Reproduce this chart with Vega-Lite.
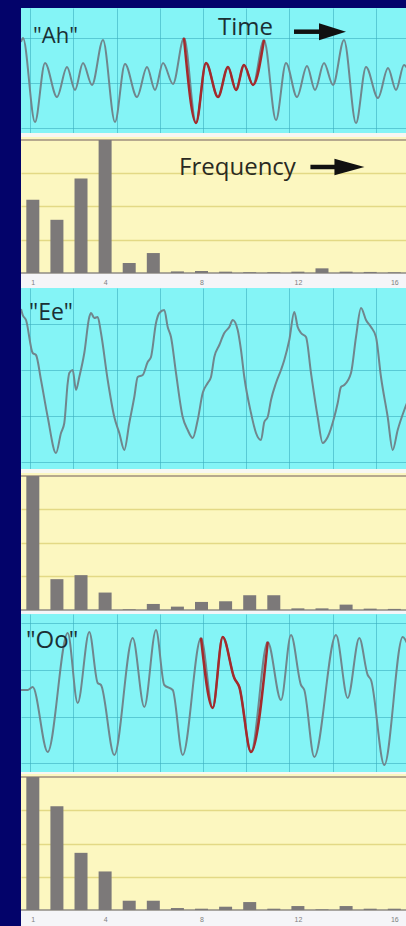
{
  "$schema": "https://vega.github.io/schema/vega-lite/v6.json",
  "background": "#03036a",
  "padding": {"left": 20, "top": 8, "right": 0, "bottom": 0},
  "config": {
    "view": {"stroke": null},
    "axis": {"minExtent": 0},
    "axisX": {"minExtent": 0},
    "axisY": {"minExtent": 0},
    "concat": {"spacing": 0}
  },
  "datasets": {
    "ah": [
      {"t": 0, "a": 91}, {"t": 2, "a": 95}, {"t": 14, "a": 11}, {"t": 24, "a": 70}, {"t": 36, "a": 36}, {"t": 46, "a": 66}, {"t": 54, "a": 43}, {"t": 62, "a": 70}, {"t": 71, "a": 48},
      {"t": 82, "a": 93}, {"t": 94, "a": 11}, {"t": 104, "a": 69}, {"t": 116, "a": 36}, {"t": 126, "a": 66}, {"t": 134, "a": 43}, {"t": 142, "a": 70}, {"t": 152, "a": 49},
      {"t": 163, "a": 95}, {"t": 175, "a": 10}, {"t": 185, "a": 70}, {"t": 197, "a": 36}, {"t": 207, "a": 66}, {"t": 215, "a": 43}, {"t": 223, "a": 68}, {"t": 232, "a": 48},
      {"t": 243, "a": 93}, {"t": 255, "a": 13}, {"t": 265, "a": 70}, {"t": 276, "a": 36}, {"t": 286, "a": 67}, {"t": 294, "a": 43}, {"t": 303, "a": 70}, {"t": 312, "a": 48},
      {"t": 323, "a": 93}, {"t": 335, "a": 10}, {"t": 345, "a": 66}, {"t": 357, "a": 35}, {"t": 367, "a": 65}, {"t": 375, "a": 43}, {"t": 383, "a": 68}, {"t": 386, "a": 65}
    ],
    "ee": [
      {"t": 0, "a": 160}, {"t": 1.7, "a": 154}, {"t": 5, "a": 149}, {"t": 11.7, "a": 116}, {"t": 15, "a": 114}, {"t": 20, "a": 89}, {"t": 26.7, "a": 52}, {"t": 35, "a": 16},
      {"t": 40, "a": 36}, {"t": 43.3, "a": 46}, {"t": 46.7, "a": 86}, {"t": 48.3, "a": 96}, {"t": 51.7, "a": 99}, {"t": 55, "a": 79}, {"t": 58.3, "a": 92}, {"t": 63.3, "a": 116},
      {"t": 68.3, "a": 152}, {"t": 70, "a": 156}, {"t": 73.3, "a": 151}, {"t": 76.7, "a": 152}, {"t": 80, "a": 136}, {"t": 86.7, "a": 89}, {"t": 93.3, "a": 52}, {"t": 98.3, "a": 36},
      {"t": 103.3, "a": 19}, {"t": 108.3, "a": 46}, {"t": 113.3, "a": 72}, {"t": 116.7, "a": 92}, {"t": 121.7, "a": 94}, {"t": 126.7, "a": 107}, {"t": 130, "a": 112}, {"t": 135, "a": 146},
      {"t": 138.3, "a": 156}, {"t": 143.3, "a": 159}, {"t": 146.7, "a": 142}, {"t": 150, "a": 132}, {"t": 155, "a": 96}, {"t": 161.7, "a": 52}, {"t": 166.7, "a": 39}, {"t": 171.7, "a": 31},
      {"t": 176.7, "a": 49}, {"t": 181.7, "a": 76}, {"t": 186.7, "a": 86}, {"t": 190, "a": 92}, {"t": 193.3, "a": 112}, {"t": 198.3, "a": 124}, {"t": 203.3, "a": 136}, {"t": 208.3, "a": 142},
      {"t": 211.7, "a": 149}, {"t": 216.7, "a": 139}, {"t": 220, "a": 119}, {"t": 223.3, "a": 92}, {"t": 230, "a": 56}, {"t": 235, "a": 36}, {"t": 240, "a": 29}, {"t": 243.3, "a": 47},
      {"t": 246.7, "a": 52}, {"t": 250, "a": 69}, {"t": 255, "a": 86}, {"t": 260, "a": 99}, {"t": 263.3, "a": 109}, {"t": 268.3, "a": 129}, {"t": 273.3, "a": 157}, {"t": 276.7, "a": 142},
      {"t": 280, "a": 136}, {"t": 285, "a": 132}, {"t": 290, "a": 96}, {"t": 296.7, "a": 52}, {"t": 301.7, "a": 26}, {"t": 306.7, "a": 32}, {"t": 313.3, "a": 52}, {"t": 316.7, "a": 66},
      {"t": 320, "a": 82}, {"t": 323.3, "a": 84}, {"t": 330, "a": 96}, {"t": 335, "a": 132}, {"t": 340, "a": 161}, {"t": 345, "a": 149}, {"t": 350, "a": 142}, {"t": 355, "a": 132},
      {"t": 360, "a": 92}, {"t": 366.7, "a": 52}, {"t": 371.7, "a": 19}, {"t": 376.7, "a": 39}, {"t": 383.3, "a": 59}, {"t": 386, "a": 66}
    ],
    "oo": [
      {"t": 0, "a": 82}, {"t": 6.7, "a": 82}, {"t": 11.7, "a": 85}, {"t": 26.7, "a": 20}, {"t": 46.7, "a": 139}, {"t": 56.7, "a": 69}, {"t": 68.3, "a": 140}, {"t": 76.7, "a": 89}, {"t": 80, "a": 87},
      {"t": 93.3, "a": 17}, {"t": 111.7, "a": 134}, {"t": 123.3, "a": 65}, {"t": 135, "a": 142}, {"t": 143.3, "a": 87}, {"t": 151.7, "a": 82},
      {"t": 161.7, "a": 17}, {"t": 180, "a": 134}, {"t": 191.7, "a": 64}, {"t": 201.7, "a": 135}, {"t": 213.3, "a": 94}, {"t": 218.3, "a": 85},
      {"t": 230, "a": 20}, {"t": 246.7, "a": 130}, {"t": 260, "a": 72}, {"t": 270, "a": 137}, {"t": 280, "a": 87}, {"t": 283.3, "a": 82},
      {"t": 293.3, "a": 15}, {"t": 315, "a": 137}, {"t": 326.7, "a": 74}, {"t": 338.3, "a": 134}, {"t": 346.7, "a": 97}, {"t": 350, "a": 92},
      {"t": 363.3, "a": 7}, {"t": 381.7, "a": 135}, {"t": 386, "a": 129}
    ],
    "ahS": [
      {"n": 1, "v": 0.55}, {"n": 2, "v": 0.40}, {"n": 3, "v": 0.71}, {"n": 4, "v": 1.0}, {"n": 5, "v": 0.075}, {"n": 6, "v": 0.15}, {"n": 7, "v": 0.012}, {"n": 8, "v": 0.015},
      {"n": 9, "v": 0.01}, {"n": 10, "v": 0.006}, {"n": 11, "v": 0.006}, {"n": 12, "v": 0.01}, {"n": 13, "v": 0.035}, {"n": 14, "v": 0.01}, {"n": 15, "v": 0.008}, {"n": 16, "v": 0.005}
    ],
    "eeS": [
      {"n": 1, "v": 1.0}, {"n": 2, "v": 0.23}, {"n": 3, "v": 0.26}, {"n": 4, "v": 0.13}, {"n": 5, "v": 0.005}, {"n": 6, "v": 0.045}, {"n": 7, "v": 0.025}, {"n": 8, "v": 0.06},
      {"n": 9, "v": 0.065}, {"n": 10, "v": 0.11}, {"n": 11, "v": 0.11}, {"n": 12, "v": 0.012}, {"n": 13, "v": 0.012}, {"n": 14, "v": 0.04}, {"n": 15, "v": 0.01}, {"n": 16, "v": 0.008}
    ],
    "ooS": [
      {"n": 1, "v": 1.0}, {"n": 2, "v": 0.78}, {"n": 3, "v": 0.43}, {"n": 4, "v": 0.29}, {"n": 5, "v": 0.07}, {"n": 6, "v": 0.07}, {"n": 7, "v": 0.015}, {"n": 8, "v": 0.01},
      {"n": 9, "v": 0.025}, {"n": 10, "v": 0.06}, {"n": 11, "v": 0.01}, {"n": 12, "v": 0.03}, {"n": 13, "v": 0.005}, {"n": 14, "v": 0.03}, {"n": 15, "v": 0.01}, {"n": 16, "v": 0.01}
    ]
  },
  "vconcat": [
    {
      "width": 386, "height": 125,
      "view": {"fill": "#84f4f6", "stroke": null},
      "layer": [
        {
          "data": {"name": "ah"},
          "mark": {"type": "line", "interpolate": "monotone", "color": "#6f868d", "strokeWidth": 2, "clip": true},
          "encoding": {
            "x": {"field": "t", "type": "quantitative", "scale": {"domain": [0, 386], "nice": false, "zero": false},
                  "axis": {"title": null, "labels": false, "ticks": false, "domain": false, "grid": true, "gridColor": "#3aaec0", "gridOpacity": 0.6,
                           "values": [9.2,20,30.8,41.6,52.4,63.2,74,84.8,95.6,106.4,117.2,128,138.8,149.6,160.4,171.2,182,192.8,203.6,214.4,225.2,236,246.8,257.6,268.4,279.2,290,300.8,311.6,322.4,333.2,344,354.8,365.6,376.4]}},
            "y": {"field": "a", "type": "quantitative", "scale": {"domain": [0, 125], "nice": false, "zero": false},
                  "axis": {"title": null, "labels": false, "ticks": false, "domain": false, "grid": true, "gridColor": "#3aaec0", "gridOpacity": 0.6,
                           "values": [4.7,16,27.4,38.7,50,61.4,72.7,84,95.3,106.7,118]}}
          }
        },
        {
          "data": {"name": "ah"},
          "transform": [{"filter": {"field": "t", "range": [163, 243]}}],
          "mark": {"type": "line", "interpolate": "monotone", "color": "#a42a2c", "strokeWidth": 2.5, "clip": true},
          "encoding": {"x": {"field": "t", "type": "quantitative"}, "y": {"field": "a", "type": "quantitative"}}
        },
        {
          "data": {"values": [{}]},
          "mark": {"type": "text", "text": "\"Ah\"", "align": "left", "baseline": "alphabetic", "font": "Open Sans", "fontSize": 22, "color": "#1b2f34"},
          "encoding": {"x": {"datum": 12}, "y": {"datum": 90}}
        },
        {
          "data": {"values": [{}]},
          "mark": {"type": "text", "text": "Time", "align": "left", "baseline": "alphabetic", "font": "Open Sans", "fontSize": 24, "color": "#1b2f34"},
          "encoding": {"x": {"datum": 197}, "y": {"datum": 98}}
        },
        {
          "data": {"values": [{}]},
          "mark": {"type": "rule", "color": "#111111", "strokeWidth": 4.5},
          "encoding": {"x": {"datum": 273}, "x2": {"datum": 301}, "y": {"datum": 101.3}}
        },
        {
          "data": {"values": [{}]},
          "mark": {"type": "point", "shape": "M-1,-0.63L1,0L-1,0.63Z", "filled": true, "color": "#111111", "opacity": 1, "size": 729},
          "encoding": {"x": {"datum": 311.5}, "y": {"datum": 101.3}}
        }
      ]
    },
    {
      "width": 386, "height": 155,
      "view": {"fill": "#fcf7c0", "stroke": null},
      "layer": [
        {
          "data": {"values": [{}]},
          "mark": {"type": "rect", "color": "#f7f7f2"},
          "encoding": {"y": {"datum": 1.022}, "y2": {"datum": 1.0526}}
        },
        {
          "data": {"values": [{}]},
          "mark": {"type": "rect", "color": "#f5f5f8"},
          "encoding": {"y": {"datum": -0.1128}, "y2": {"datum": 0}}
        },
        {
          "data": {"values": [{}]},
          "mark": {"type": "rule", "color": "#b6a98e", "strokeWidth": 2},
          "encoding": {"y": {"datum": 1}}
        },
        {
          "data": {"values": [{}]},
          "mark": {"type": "rule", "color": "#8f8b84", "strokeWidth": 1.5},
          "encoding": {"y": {"datum": 0}}
        },
        {
          "data": {"name": "ahS"},
          "mark": {"type": "bar", "color": "#7c7979", "width": 13},
          "encoding": {
            "x": {"field": "n", "type": "quantitative", "scale": {"domain": [0.717, 16.32], "nice": false, "zero": false},
                  "axis": {"title": null, "values": [1, 4, 8, 12, 16], "labelFontSize": 7, "labelColor": "#808080", "ticks": false, "domain": false, "grid": false, "offset": -15, "labelPadding": 5, "labelFlush": false, "zindex": 1}},
            "y": {"field": "v", "type": "quantitative", "scale": {"domain": [-0.1128, 1.0526], "nice": false, "zero": false},
                  "axis": {"title": null, "values": [0.25, 0.5, 0.75], "labels": false, "ticks": false, "domain": false, "grid": true, "gridColor": "#e3d985", "gridWidth": 1.3}},
            "y2": {"datum": 0}
          }
        },
        {
          "data": {"values": [{}]},
          "mark": {"type": "text", "text": "Frequency", "align": "left", "baseline": "alphabetic", "font": "Open Sans", "fontSize": 24, "color": "#2a2a22"},
          "encoding": {"x": {"datum": 7.07}, "y": {"datum": 0.737}}
        },
        {
          "data": {"values": [{}]},
          "mark": {"type": "rule", "color": "#111111", "strokeWidth": 4.5},
          "encoding": {"x": {"datum": 12.52}, "x2": {"datum": 13.6}, "y": {"datum": 0.797}}
        },
        {
          "data": {"values": [{}]},
          "mark": {"type": "point", "shape": "M-1,-0.55L1,0L-1,0.55Z", "filled": true, "color": "#111111", "opacity": 1, "size": 900},
          "encoding": {"x": {"datum": 14.14}, "y": {"datum": 0.797}}
        }
      ]
    },
    {
      "width": 386, "height": 181,
      "view": {"fill": "#84f4f6", "stroke": null},
      "layer": [
        {
          "data": {"name": "ee"},
          "mark": {"type": "line", "interpolate": "monotone", "color": "#6f868d", "strokeWidth": 2, "clip": true},
          "encoding": {
            "x": {"field": "t", "type": "quantitative", "scale": {"domain": [0, 386], "nice": false, "zero": false},
                  "axis": {"title": null, "labels": false, "ticks": false, "domain": false, "grid": true, "gridColor": "#3aaec0", "gridOpacity": 0.6,
                           "values": [9.2,20,30.8,41.6,52.4,63.2,74,84.8,95.6,106.4,117.2,128,138.8,149.6,160.4,171.2,182,192.8,203.6,214.4,225.2,236,246.8,257.6,268.4,279.2,290,300.8,311.6,322.4,333.2,344,354.8,365.6,376.4]}},
            "y": {"field": "a", "type": "quantitative", "scale": {"domain": [0, 181], "nice": false, "zero": false},
                  "axis": {"title": null, "labels": false, "ticks": false, "domain": false, "grid": true, "gridColor": "#3aaec0", "gridOpacity": 0.6,
                           "values": [7.3,18.8,30.3,41.8,53.3,64.8,76.3,87.8,99.3,110.8,122.3,133.8,145.3,156.8,168.3,179.8]}}
          }
        },
        {
          "data": {"values": [{}]},
          "mark": {"type": "text", "text": "\"Ee\"", "align": "left", "baseline": "alphabetic", "font": "Open Sans", "fontSize": 23, "color": "#1b2f34"},
          "encoding": {"x": {"datum": 8}, "y": {"datum": 149}}
        }
      ]
    },
    {
      "width": 386, "height": 145,
      "view": {"fill": "#fcf7c0", "stroke": null},
      "layer": [
        {
          "data": {"values": [{}]},
          "mark": {"type": "rect", "color": "#f7f7f2"},
          "encoding": {"y": {"datum": 1.022}, "y2": {"datum": 1.052}}
        },
        {
          "data": {"values": [{}]},
          "mark": {"type": "rect", "color": "#f5f5f8"},
          "encoding": {"y": {"datum": -0.03}, "y2": {"datum": 0}}
        },
        {
          "data": {"values": [{}]},
          "mark": {"type": "rule", "color": "#b6a98e", "strokeWidth": 2},
          "encoding": {"y": {"datum": 1}}
        },
        {
          "data": {"values": [{}]},
          "mark": {"type": "rule", "color": "#8f8b84", "strokeWidth": 1.5},
          "encoding": {"y": {"datum": 0}}
        },
        {
          "data": {"name": "eeS"},
          "mark": {"type": "bar", "color": "#7c7979", "width": 13},
          "encoding": {
            "x": {"field": "n", "type": "quantitative", "scale": {"domain": [0.717, 16.32], "nice": false, "zero": false}, "axis": null},
            "y": {"field": "v", "type": "quantitative", "scale": {"domain": [-0.03, 1.052], "nice": false, "zero": false},
                  "axis": {"title": null, "values": [0.25, 0.5, 0.75], "labels": false, "ticks": false, "domain": false, "grid": true, "gridColor": "#e3d985", "gridWidth": 1.3}},
            "y2": {"datum": 0}
          }
        }
      ]
    },
    {
      "width": 386, "height": 158,
      "view": {"fill": "#84f4f6", "stroke": null},
      "layer": [
        {
          "data": {"name": "oo"},
          "mark": {"type": "line", "interpolate": "monotone", "color": "#6f868d", "strokeWidth": 2, "clip": true},
          "encoding": {
            "x": {"field": "t", "type": "quantitative", "scale": {"domain": [0, 386], "nice": false, "zero": false},
                  "axis": {"title": null, "labels": false, "ticks": false, "domain": false, "grid": true, "gridColor": "#3aaec0", "gridOpacity": 0.6,
                           "values": [9.2,20,30.8,41.6,52.4,63.2,74,84.8,95.6,106.4,117.2,128,138.8,149.6,160.4,171.2,182,192.8,203.6,214.4,225.2,236,246.8,257.6,268.4,279.2,290,300.8,311.6,322.4,333.2,344,354.8,365.6,376.4]}},
            "y": {"field": "a", "type": "quantitative", "scale": {"domain": [0, 158], "nice": false, "zero": false},
                  "axis": {"title": null, "labels": false, "ticks": false, "domain": false, "grid": true, "gridColor": "#3aaec0", "gridOpacity": 0.6,
                           "values": [8.7,20.4,32,43.7,55.4,67,78.7,90.4,102,113.7,125.4,137,148.7]}}
          }
        },
        {
          "data": {"name": "oo"},
          "transform": [{"filter": {"field": "t", "range": [180, 246.7]}}],
          "mark": {"type": "line", "interpolate": "monotone", "color": "#a42a2c", "strokeWidth": 2.5, "clip": true},
          "encoding": {"x": {"field": "t", "type": "quantitative"}, "y": {"field": "a", "type": "quantitative"}}
        },
        {
          "data": {"values": [{}]},
          "mark": {"type": "text", "text": "\"Oo\"", "align": "left", "baseline": "alphabetic", "font": "Open Sans", "fontSize": 24, "color": "#1b2f34"},
          "encoding": {"x": {"datum": 5}, "y": {"datum": 124}}
        }
      ]
    },
    {
      "width": 386, "height": 154,
      "view": {"fill": "#fcf7c0", "stroke": null},
      "layer": [
        {
          "data": {"values": [{}]},
          "mark": {"type": "rect", "color": "#f7f7f2"},
          "encoding": {"y": {"datum": 1.022}, "y2": {"datum": 1.0376}}
        },
        {
          "data": {"values": [{}]},
          "mark": {"type": "rect", "color": "#f5f5f8"},
          "encoding": {"y": {"datum": -0.12}, "y2": {"datum": 0}}
        },
        {
          "data": {"values": [{}]},
          "mark": {"type": "rule", "color": "#b6a98e", "strokeWidth": 2},
          "encoding": {"y": {"datum": 1}}
        },
        {
          "data": {"values": [{}]},
          "mark": {"type": "rule", "color": "#8f8b84", "strokeWidth": 1.5},
          "encoding": {"y": {"datum": 0}}
        },
        {
          "data": {"name": "ooS"},
          "mark": {"type": "bar", "color": "#7c7979", "width": 13},
          "encoding": {
            "x": {"field": "n", "type": "quantitative", "scale": {"domain": [0.717, 16.32], "nice": false, "zero": false},
                  "axis": {"title": null, "values": [1, 4, 8, 12, 16], "labelFontSize": 7, "labelColor": "#808080", "ticks": false, "domain": false, "grid": false, "offset": -16, "labelPadding": 5, "labelFlush": false, "zindex": 1}},
            "y": {"field": "v", "type": "quantitative", "scale": {"domain": [-0.12, 1.0376], "nice": false, "zero": false},
                  "axis": {"title": null, "values": [0.25, 0.5, 0.75], "labels": false, "ticks": false, "domain": false, "grid": true, "gridColor": "#e3d985", "gridWidth": 1.3}},
            "y2": {"datum": 0}
          }
        }
      ]
    }
  ]
}
